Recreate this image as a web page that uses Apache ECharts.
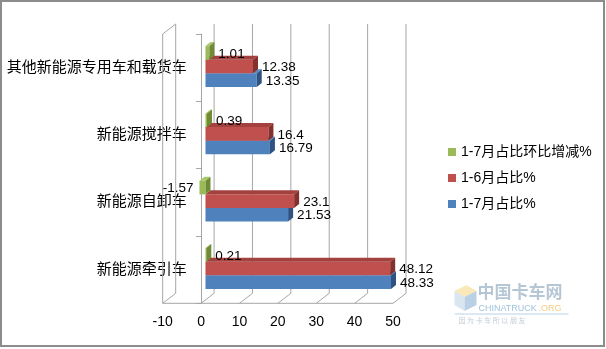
<!DOCTYPE html>
<html>
<head>
<meta charset="utf-8">
<script src="https://cdn.jsdelivr.net/npm/echarts@6/dist/echarts.min.js"></script>
<style>
  html, body { margin: 0; padding: 0; background: #ffffff; }
  #chart { width: 606px; height: 349px; }
</style>
</head>
<body>
<div id="chart"></div>
<script>
// Categories, bottom to top along the vertical axis
const categories = ['新能源牵引车', '新能源自卸车', '新能源搅拌车', '其他新能源专用车和载货车'];
// Share Jan–Jul (%)
const share17 = [48.33, 21.53, 16.79, 13.35];
// Share Jan–Jun (%)
const share16 = [48.12, 23.1, 16.4, 12.38];
// Change of the Jan–Jul share (percentage points)
const shareChange = [0.21, -1.57, 0.39, 1.01];
const seriesNames = ['1-7月占比环比增减%', '1-6月占比%', '1-7月占比%'];
const xTicks = [-10, 0, 10, 20, 30, 40, 50];

const FONT = '"Liberation Sans", "Noto Sans CJK SC", sans-serif';
const GRID_COLOR = '#a6a6a6';

// pseudo-3D geometry (pixels)
const WALL_DX = 13, WALL_DY = -10;   // depth of the chart box
const BAR_SHIFT = 4.4;               // bars sit slightly behind the front plane
const BAR_DX = 5, BAR_DY = -4;       // depth of each bar
const BAR_H = 0.202;                 // bar thickness as a fraction of a category band
// band offsets for each bar slot (top of front face), from the band top
const SLOT = { change: 0.18, s16: 0.382, s17: 0.584 };

const chart = echarts.init(document.getElementById('chart'), null, { renderer: 'canvas' });

function renderWall(params, api) {
  const cs = params.coordSys;
  const v = api.value(0);
  const x = api.coord([v, 0])[0];
  const top = cs.y, bottom = cs.y + cs.height;
  const st = { stroke: GRID_COLOR, lineWidth: 1, fill: null };
  const children = [
    { type: 'line', shape: { x1: x + WALL_DX, y1: top + WALL_DY, x2: x + WALL_DX, y2: bottom + WALL_DY }, style: st },
    { type: 'line', shape: { x1: x, y1: bottom, x2: x + WALL_DX, y2: bottom + WALL_DY }, style: st }
  ];
  if (params.dataIndex === 0) {
    // left side wall and front edge of the floor
    children.push(
      { type: 'line', shape: { x1: x, y1: top, x2: x, y2: bottom }, style: st },
      { type: 'line', shape: { x1: x, y1: top, x2: x + WALL_DX, y2: top + WALL_DY }, style: st },
      { type: 'line', shape: { x1: cs.x, y1: bottom, x2: cs.x + cs.width, y2: bottom }, style: st }
    );
  }
  return { type: 'group', children: children };
}

function barRenderer(slot, front, topC, sideC) {
  return function (params, api) {
    const v = api.value(0), ci = api.value(1);
    const p = api.coord([v, ci]);
    const p0 = api.coord([0, ci]);
    const band = api.size([0, 1])[1];
    const bandTop = p[1] - band / 2;
    const y0 = bandTop + slot * band;
    const y1 = y0 + BAR_H * band;
    const xa = Math.min(p0[0], p[0]) + BAR_SHIFT;
    const xb = Math.max(p0[0], p[0]) + BAR_SHIFT;
    const label = v >= 0
      ? { x: xb + BAR_DX + 4, align: 'left' }
      : { x: xa - 6, align: 'right' };
    return {
      type: 'group',
      children: [
        { type: 'polygon', shape: { points: [[xa, y0], [xb, y0], [xb, y1], [xa, y1]] }, style: { fill: front } },
        { type: 'polygon', shape: { points: [[xa, y0], [xb, y0], [xb + BAR_DX, y0 + BAR_DY], [xa + BAR_DX, y0 + BAR_DY]] }, style: { fill: topC } },
        { type: 'polygon', shape: { points: [[xb, y0], [xb + BAR_DX, y0 + BAR_DY], [xb + BAR_DX, y1 + BAR_DY], [xb, y1]] }, style: { fill: sideC } },
        {
          type: 'text', z2: 10,
          style: {
            text: String(v), x: label.x, y: (y0 + y1) / 2 + 1,
            align: label.align, verticalAlign: 'middle',
            fill: '#000', font: '13.5px ' + FONT
          }
        }
      ]
    };
  };
}

function barData(values) { return values.map((v, i) => [v, i]); }

const option = {
  animation: false,
  backgroundColor: '#ffffff',
  grid: { left: 162.7, right: 213, top: 34, bottom: 45.7, containLabel: false, outerBoundsMode: 'none' },
  xAxis: {
    type: 'value', min: -10, max: 50, interval: 10,
    axisLine: { show: false }, axisTick: { show: false }, splitLine: { show: false },
    axisLabel: { color: '#000', fontSize: 14, fontFamily: FONT, margin: 12 }
  },
  yAxis: {
    type: 'category', data: categories,
    axisLine: { show: true, onZero: true, lineStyle: { color: GRID_COLOR, width: 1 } },
    axisTick: { show: true, length: 5, lineStyle: { color: GRID_COLOR } },
    // labels sit just left of the zero line, across the side wall
    axisLabel: { color: '#000', fontSize: 15, fontFamily: FONT, margin: -24 }
  },
  legend: {
    orient: 'vertical', left: 443, top: 140,
    itemWidth: 8, itemHeight: 8, itemGap: 12, icon: 'rect',
    data: seriesNames,
    textStyle: { color: '#000', fontSize: 14, fontFamily: FONT }
  },
  series: [
    {
      type: 'custom', name: 'wall', silent: true, z: 1,
      data: xTicks.map(v => [v, 0]), encode: { x: 0, y: 1 },
      renderItem: renderWall
    },
    {
      type: 'custom', name: seriesNames[2], z: 2,
      itemStyle: { color: '#4F81BD' },
      data: barData(share17), encode: { x: 0, y: 1 },
      renderItem: barRenderer(SLOT.s17, '#4F81BD', '#5a8ac4', '#2f5282')
    },
    {
      type: 'custom', name: seriesNames[1], z: 3,
      itemStyle: { color: '#C0504D' },
      data: barData(share16), encode: { x: 0, y: 1 },
      renderItem: barRenderer(SLOT.s16, '#C0504D', '#a3413e', '#86302e')
    },
    {
      type: 'custom', name: seriesNames[0], z: 4,
      itemStyle: { color: '#9BBB59' },
      data: barData(shareChange), encode: { x: 0, y: 1 },
      renderItem: barRenderer(SLOT.change, '#9BBB59', '#a9c86a', '#6f8c34')
    }
  ],
  graphic: [
    {
      type: 'rect', silent: true, z: 0,
      shape: { x: 1, y: 1, width: 603, height: 345 },
      style: { fill: null, stroke: '#8c8c8c', lineWidth: 2 }
    },
    {
      type: 'group', silent: true, left: 452, top: 283, z: 0,
      children: [
        { type: 'polygon', shape: { points: [[8, 8], [20, 2], [30, 8], [18, 14]] }, style: { fill: '#f7e2a6', opacity: 0.8 } },
        { type: 'polygon', shape: { points: [[8, 8], [18, 14], [18, 28], [8, 22]] }, style: { fill: '#cfe0ee', opacity: 0.8 } },
        { type: 'polygon', shape: { points: [[18, 14], [30, 8], [30, 22], [18, 28]] }, style: { fill: '#a9c6de', opacity: 0.8 } },
        { type: 'text', style: { text: '中国卡车网', x: 31, y: 0, fill: '#a8bccd', font: 'bold 17px "Noto Sans CJK SC"', opacity: 0.85 } },
        { type: 'text', style: { text: 'CHINATRUCK', x: 32, y: 21, fill: '#9fc3dc', font: '9px "Liberation Sans"' } },
        { type: 'text', style: { text: '.ORG', x: 92, y: 21, fill: '#f1cf83', font: '9px "Liberation Sans"' } },
        { type: 'line', shape: { x1: 8, y1: 31, x2: 122, y2: 31 }, style: { stroke: '#b9d3e6', lineWidth: 1 } },
        { type: 'text', style: { text: '因 为 卡 车 所 以 朋 友', x: 12, y: 34, fill: '#c3ccd4', font: '7px "Noto Sans CJK SC"' } }
      ]
    }
  ]
};

chart.setOption(option);
</script>
</body>
</html>
